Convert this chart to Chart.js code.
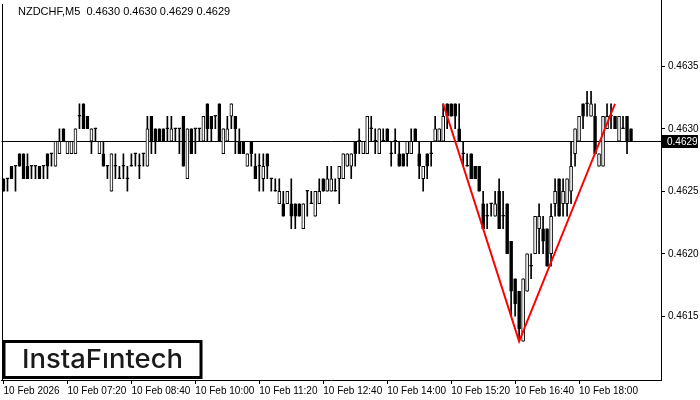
<!DOCTYPE html>
<html>
<head>
<meta charset="utf-8">
<script src="https://cdn.jsdelivr.net/npm/chart.js@4.4.1/dist/chart.umd.min.js"></script>
<style>
  html, body { margin: 0; padding: 0; background: #fff; }
  canvas { display: block; }
</style>
</head>
<body>
<canvas id="chartCandles" width="700" height="400"></canvas>
<script>
// M5 candles, 06:00 .. 19:05
const opens = [
  .4626,.4626,.4627,.4627,.4628,.4628,.4627,.4627,.4627,.4627,.4627,.4628,.4628,.4627,.4628,.4630,
  .4628,.4628,.4628,.4631,.4632,.4631,.4629,.4630,.4628,.4628,.4627,.4625,.4627,.4626,.4627,.4626,
  .4627,.4628,.4627,.4628,.4627,.4631,.4630,.4630,.4630,.4630,.4629,.4630,.4630,.4631,.4626,.4630,
  .4630,.4630,.4629,.4632,.4631,.4631,.4632,.4628,.4629,.4631,.4631,.4629,.4629,.4627,.4629,.4627,
  .4627,.4626,.4628,.4626,.4625,.4624,.4624,.4624,.4624,.4624,.4624,.4622,.4625,.4624,.4623,.4624,
  .4626,.4625,.4625,.4625,.4626,.4626,.4627,.4627,.4629,.4629,.4628,.4628,.4630,.4629,.4628,.4629,
  .4630,.4628,.4629,.4628,.4628,.4628,.4628,.4630,.4628,.4626,.4628,.4628,.4629,.4629,.4629,.4632,
  .4632,.4632,.4630,.4628,.4627,.4628,.4627,.4627,.4624,.4623,.4624,.4623,.4625,.4623,.4624,.4621,
  .4618,.4617,.4613,.4617,.4619,.4620,.4622,.4622,.4622,.4620,.4624,.4626,.4624,.4624,.4625,.4628,
  .4629,.4632,.4632,.4631,.4631,.4627,.4627,.4630,.4631,.4631,.4629,.4630,.4631,.4630
];
const highs = [
  .4626,.4626,.4627,.4627,.4628,.4628,.4628,.4627,.4627,.4627,.4627,.4628,.4628,.4629,.4630,.4630,
  .4629,.4629,.4630,.4632,.4632,.4631,.4630,.4630,.4629,.4629,.4627,.4628,.4628,.4627,.4628,.4627,
  .4628,.4628,.4628,.4628,.4631,.4631,.4630,.4630,.4630,.4631,.4631,.4630,.4630,.4631,.4630,.4630,
  .4630,.4630,.4631,.4632,.4631,.4631,.4632,.4630,.4631,.4632,.4631,.4630,.4629,.4628,.4629,.4628,
  .4628,.4628,.4628,.4626,.4626,.4626,.4625,.4625,.4626,.4624,.4624,.4624,.4625,.4625,.4625,.4626,
  .4626,.4627,.4627,.4626,.4627,.4628,.4628,.4628,.4629,.4630,.4629,.4631,.4631,.4630,.4630,.4630,
  .4630,.4629,.4630,.4629,.4628,.4629,.4630,.4630,.4629,.4627,.4628,.4629,.4631,.4630,.4632,.4632,
  .4632,.4632,.4632,.4629,.4628,.4628,.4627,.4627,.4625,.4624,.4624,.4625,.4626,.4625,.4624,.4621,
  .4618,.4617,.4618,.4620,.4620,.4623,.4624,.4623,.4622,.4624,.4626,.4626,.4626,.4626,.4629,.4630,
  .4631,.4632,.4633,.4633,.4632,.4628,.4631,.4632,.4632,.4631,.4631,.4631,.4631,.4630
];
const lows = [
  .4625,.4625,.4626,.4625,.4627,.4626,.4626,.4626,.4626,.4626,.4626,.4626,.4627,.4627,.4628,.4629,
  .4628,.4628,.4628,.4630,.4630,.4630,.4628,.4629,.4628,.4627,.4626,.4625,.4626,.4626,.4626,.4625,
  .4627,.4627,.4626,.4627,.4627,.4628,.4628,.4629,.4629,.4629,.4629,.4629,.4628,.4627,.4626,.4628,
  .4628,.4629,.4629,.4629,.4629,.4630,.4629,.4628,.4629,.4630,.4628,.4628,.4628,.4627,.4627,.4626,
  .4625,.4625,.4626,.4625,.4625,.4624,.4623,.4624,.4622,.4622,.4623,.4622,.4623,.4624,.4623,.4624,
  .4625,.4625,.4625,.4625,.4624,.4626,.4627,.4626,.4627,.4628,.4628,.4628,.4629,.4628,.4628,.4629,
  .4629,.4627,.4628,.4627,.4627,.4627,.4628,.4629,.4626,.4625,.4626,.4627,.4629,.4629,.4629,.4630,
  .4631,.4630,.4629,.4627,.4627,.4626,.4626,.4625,.4622,.4622,.4623,.4623,.4622,.4622,.4620,.4615,
  .4615,.4613,.4613,.4617,.4618,.4620,.4620,.4620,.4619,.4619,.4623,.4623,.4623,.4623,.4624,.4627,
  .4629,.4630,.4631,.4631,.4628,.4627,.4627,.4630,.4630,.4630,.4629,.4630,.4628,.4629
];
const closes = [
  .4625,.4626,.4626,.4627,.4627,.4626,.4626,.4627,.4627,.4626,.4627,.4627,.4628,.4629,.4629,.4629,
  .4629,.4629,.4630,.4631,.4630,.4630,.4630,.4630,.4629,.4627,.4627,.4628,.4627,.4626,.4627,.4626,
  .4627,.4628,.4627,.4628,.4630,.4629,.4629,.4629,.4629,.4630,.4630,.4630,.4630,.4627,.4630,.4628,
  .4630,.4630,.4631,.4630,.4630,.4631,.4629,.4630,.4630,.4632,.4630,.4628,.4628,.4628,.4628,.4626,
  .4627,.4627,.4627,.4626,.4625,.4625,.4623,.4625,.4623,.4623,.4623,.4624,.4625,.4624,.4625,.4625,
  .4625,.4626,.4626,.4625,.4627,.4628,.4628,.4628,.4628,.4629,.4629,.4631,.4630,.4629,.4630,.4629,
  .4629,.4628,.4629,.4627,.4627,.4629,.4629,.4629,.4627,.4627,.4627,.4628,.4630,.4630,.4631,.4631,
  .4631,.4631,.4629,.4628,.4627,.4626,.4626,.4625,.4622,.4623,.4624,.4624,.4622,.4623,.4620,.4617,
  .4616,.4614,.4618,.4620,.4619,.4623,.4623,.4621,.4619,.4623,.4625,.4623,.4625,.4626,.4627,.4630,
  .4631,.4631,.4632,.4632,.4628,.4628,.4631,.4631,.4631,.4630,.4631,.4630,.4629,.4629
];

// double bottom pattern drawn on the chart
const patternBars = [110, 129, 153];
const patternPrices = [0.4632, 0.4613, 0.4632];

const bidPrice = 0.4629;
const yTicks = [0.4615, 0.4620, 0.4625, 0.4630, 0.4635];
const xTickLabels = ['10 Feb 2026', '10 Feb 07:20', '10 Feb 08:40', '10 Feb 10:00', '10 Feb 11:20',
                     '10 Feb 12:40', '10 Feb 14:00', '10 Feb 15:20', '10 Feb 16:40', '10 Feb 18:00'];

// category slots: the bars plus the empty right margin
const slotCount = 165;
const categories = [];
for (let i = 0; i < slotCount; i++) {
    const m = 6 * 60 + 5 * i;
    categories.push(String(Math.floor(m / 60)).padStart(2, '0') + ':' + String(m % 60).padStart(2, '0'));
}

const wicks = lows.map((l, i) => [l, highs[i]]);
const bodies = opens.map((o, i) => [o, closes[i]]);
const bodyColors = opens.map((o, i) => closes[i] > o ? '#ffffff' : '#000000');
const pattern = patternBars.map((b, i) => ({ x: categories[b], y: patternPrices[i] }));

const axisFont = { family: 'Liberation Sans', size: 10 };

const overlay = {
    id: 'overlay',
    beforeDatasetsDraw(chart) {
        const { ctx, chartArea } = chart;
        const y = Math.round(chart.scales.y.getPixelForValue(bidPrice)) + 0.5;
        ctx.save();
        ctx.strokeStyle = '#000';
        ctx.lineWidth = 1;
        ctx.beginPath();
        ctx.moveTo(chartArea.left, y);
        ctx.lineTo(chartArea.right, y);
        ctx.stroke();
        ctx.restore();
    },
    afterDraw(chart) {
        const { ctx, chartArea } = chart;
        ctx.save();
        // left frame line
        ctx.strokeStyle = '#000';
        ctx.lineWidth = 1;
        ctx.beginPath();
        ctx.moveTo(2.5, 4);
        ctx.lineTo(2.5, chartArea.bottom);
        ctx.stroke();

        // header
        ctx.fillStyle = '#000';
        ctx.font = '11px "Liberation Sans"';
        ctx.textBaseline = 'middle';
        ctx.textAlign = 'left';
        ctx.fillText('NZDCHF,M5  0.4630 0.4630 0.4629 0.4629', 18, 12);

        // bid price box
        const y = Math.round(chart.scales.y.getPixelForValue(bidPrice));
        ctx.fillStyle = '#000';
        ctx.fillRect(chartArea.right, y - 6, 37, 13);
        ctx.fillStyle = '#fff';
        ctx.font = '10px "Liberation Sans"';
        ctx.fillText('0.4629', chartArea.right + 6, y + 1);

        // logo
        ctx.fillStyle = '#fff';
        ctx.fillRect(4, 341.5, 197, 36);
        ctx.strokeStyle = '#000';
        ctx.lineWidth = 3;
        ctx.strokeRect(4, 341.5, 197, 36);
        ctx.fillStyle = '#1a1a1a';
        ctx.font = '500 26px Inter';
        ctx.textBaseline = 'alphabetic';
        const txt = 'InstaF\u0131ntech';
        const w = ctx.measureText(txt).width;
        ctx.translate(22, 368);
        ctx.scale(161 / w, 1);
        ctx.fillText(txt, 0, 0);
        ctx.restore();
    }
};

const ctx = document.getElementById('chartCandles');
const chart = new Chart(ctx, {
    type: 'bar',
    data: {
        labels: categories,
        datasets: [
            {
                type: 'line',
                data: pattern,
                borderColor: '#ff0000',
                borderWidth: 2,
                pointRadius: 0,
                order: 0
            },
            {
                data: bodies,
                grouped: false,
                barThickness: 3,
                minBarLength: 1,
                borderWidth: 1,
                borderSkipped: false,
                borderColor: '#000',
                backgroundColor: bodyColors,
                order: 1
            },
            {
                data: wicks,
                grouped: false,
                barThickness: 1,
                minBarLength: 1,
                borderWidth: 0,
                backgroundColor: '#000',
                order: 2
            }
        ]
    },
    options: {
        responsive: false,
        animation: false,
        events: [],
        layout: { padding: { left: 1.5, top: 0, right: 0, bottom: 0 } },
        plugins: { legend: { display: false }, tooltip: { enabled: false } },
        scales: {
            x: {
                offset: true,
                grid: { display: true, drawOnChartArea: false, drawTicks: true, tickLength: 4, color: '#000', offset: false },
                border: { display: true, color: '#000' },
                ticks: {
                    autoSkip: false,
                    maxRotation: 0,
                    align: 'start',
                    padding: 1,
                    color: '#000',
                    font: axisFont,
                    callback: function(val, idx) {
                        return idx % 16 === 0 ? xTickLabels[idx / 16] : null;
                    }
                },
                afterFit: function(scale) {
                    scale.height = 20;
                    scale.paddingLeft = 0;
                    scale.paddingRight = 0;
                }
            },
            y: {
                position: 'right',
                min: 0.46099,
                max: 0.46403,
                grid: { display: true, drawOnChartArea: false, drawTicks: true, tickLength: 4, color: '#000' },
                border: { display: true, color: '#000' },
                ticks: {
                    padding: 3,
                    color: '#000',
                    font: axisFont,
                    callback: function(v) { return v.toFixed(4); }
                },
                afterBuildTicks: function(axis) { axis.ticks = yTicks.map(v => ({ value: v })); },
                afterFit: function(scale) {
                    scale.width = 39;
                    scale.paddingTop = 0;
                    scale.paddingBottom = 0;
                }
            }
        }
    },
    plugins: [overlay]
});
</script>
</body>
</html>
